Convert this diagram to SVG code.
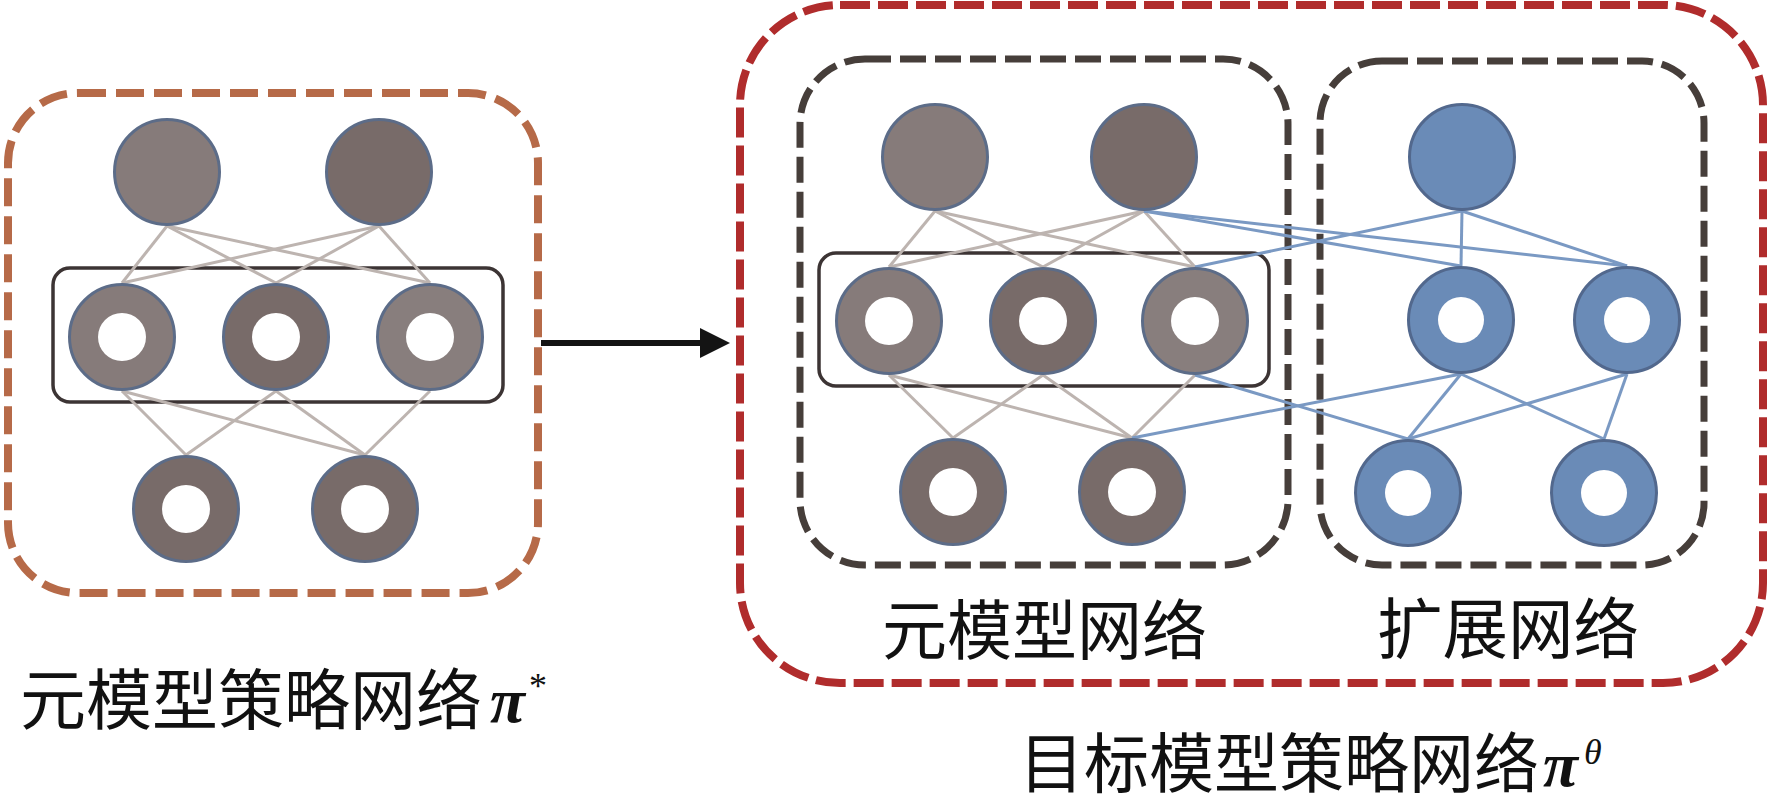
<svg xmlns="http://www.w3.org/2000/svg" width="1773" height="806" viewBox="0 0 1773 806">
<style>
.bg{fill:#ffffff}
.dash-or{fill:none;stroke:#b66a48;stroke-width:8;stroke-dasharray:28 10}
.dash-red{fill:none;stroke:#b02c2c;stroke-width:8;stroke-dasharray:30 8}
.dash-dk{fill:none;stroke:#463e3a;stroke-width:7;stroke-dasharray:26 9}
.grp{fill:none;stroke:#3c3434;stroke-width:3.5}
.gl{stroke:#bdb4b0;stroke-width:3;fill:none}
.bl{stroke:#7a99c3;stroke-width:3;fill:none}
.gn{stroke:#5c6c88;stroke-width:3}
.bn{fill:#6a8bb7;stroke:#52688d;stroke-width:3}
.hole{fill:#ffffff}
.g1{fill:#867b7a}
.g2{fill:#786b69}
.g3{fill:#887e7d}
.cjk{font-family:"Noto Sans CJK SC","Noto Sans CJK TC",sans-serif;fill:#111111}
.pi{font-family:"Liberation Serif",serif;font-weight:bold;font-style:italic;fill:#111111}
.sup{font-family:"Liberation Serif",serif;fill:#111111}
</style>
<defs>
<marker id="arrowhead" markerWidth="6" markerHeight="6" refX="0" refY="3" orient="auto" markerUnits="strokeWidth" viewBox="0 0 6 6">
<path d="M0,0.5 L5,3 L0,5.5 Z" fill="#141414"/>
</marker>
</defs>
<rect class="bg" x="0" y="0" width="1773" height="806"/>

<g id="frames">
<rect id="meta-policy-frame" class="dash-or" x="8" y="93" width="530" height="500" rx="70" ry="70"/>
<rect id="target-policy-frame" class="dash-red" x="740" y="5" width="1023" height="678" rx="100" ry="100"/>
<rect id="meta-net-frame" class="dash-dk" x="800" y="59" width="488" height="506" rx="65" ry="65"/>
<rect id="ext-net-frame" class="dash-dk" x="1320" y="61" width="384" height="504" rx="62" ry="62"/>
</g>

<g id="groups">
<rect id="left-hidden-group" class="grp" x="53" y="268" width="450" height="134" rx="17" ry="17"/>
<rect id="meta-hidden-group" class="grp" x="819" y="253" width="450" height="133" rx="17" ry="17"/>
</g>

<g id="connectors">
<line class="gl" x1="167" y1="226" x2="122" y2="283"/>
<line class="gl" x1="167" y1="226" x2="276" y2="283"/>
<line class="gl" x1="167" y1="226" x2="430" y2="283"/>
<line class="gl" x1="379" y1="226" x2="122" y2="283"/>
<line class="gl" x1="379" y1="226" x2="276" y2="283"/>
<line class="gl" x1="379" y1="226" x2="430" y2="283"/>
<line class="gl" x1="122" y1="391" x2="186" y2="455"/>
<line class="gl" x1="122" y1="391" x2="365" y2="455"/>
<line class="gl" x1="276" y1="391" x2="186" y2="455"/>
<line class="gl" x1="276" y1="391" x2="365" y2="455"/>
<line class="gl" x1="430" y1="391" x2="365" y2="455"/>
<line class="gl" x1="935" y1="211" x2="889" y2="267"/>
<line class="gl" x1="935" y1="211" x2="1043" y2="267"/>
<line class="gl" x1="935" y1="211" x2="1195" y2="267"/>
<line class="gl" x1="1144" y1="211" x2="889" y2="267"/>
<line class="gl" x1="1144" y1="211" x2="1043" y2="267"/>
<line class="gl" x1="1144" y1="211" x2="1195" y2="267"/>
<line class="gl" x1="889" y1="375" x2="953" y2="438"/>
<line class="gl" x1="889" y1="375" x2="1132" y2="438"/>
<line class="gl" x1="1043" y1="375" x2="953" y2="438"/>
<line class="gl" x1="1043" y1="375" x2="1132" y2="438"/>
<line class="gl" x1="1195" y1="375" x2="1132" y2="438"/>
<line class="bl" x1="1144" y1="211" x2="1461" y2="266"/>
<line class="bl" x1="1144" y1="211" x2="1627" y2="266"/>
<line class="bl" x1="1195" y1="267" x2="1462" y2="211"/>
<line class="bl" x1="1462" y1="211" x2="1461" y2="266"/>
<line class="bl" x1="1462" y1="211" x2="1627" y2="266"/>
<line class="bl" x1="1132" y1="438" x2="1461" y2="374"/>
<line class="bl" x1="1195" y1="375" x2="1408" y2="439"/>
<line class="bl" x1="1461" y1="374" x2="1408" y2="439"/>
<line class="bl" x1="1461" y1="374" x2="1604" y2="439"/>
<line class="bl" x1="1627" y1="374" x2="1408" y2="439"/>
<line class="bl" x1="1627" y1="374" x2="1604" y2="439"/>
<line x1="541" y1="343" x2="700" y2="343" stroke="#141414" stroke-width="6" marker-end="url(#arrowhead)"/>
</g>

<g id="left-network">
<g id="L-T1"><circle class="gn g1" cx="167" cy="172" r="52.5"/></g>
<g id="L-T2"><circle class="gn g2" cx="379" cy="172" r="52.5"/></g>
<g id="L-M1"><circle class="gn g1" cx="122" cy="337" r="52.5"/><circle class="hole" cx="122" cy="337" r="24"/></g>
<g id="L-M2"><circle class="gn g2" cx="276" cy="337" r="52.5"/><circle class="hole" cx="276" cy="337" r="24"/></g>
<g id="L-M3"><circle class="gn g3" cx="430" cy="337" r="52.5"/><circle class="hole" cx="430" cy="337" r="24"/></g>
<g id="L-B1"><circle class="gn g2" cx="186" cy="509" r="52.5"/><circle class="hole" cx="186" cy="509" r="24"/></g>
<g id="L-B2"><circle class="gn g2" cx="365" cy="509" r="52.5"/><circle class="hole" cx="365" cy="509" r="24"/></g>
</g>

<g id="meta-network">
<g id="M-T1"><circle class="gn g1" cx="935" cy="157" r="52.5"/></g>
<g id="M-T2"><circle class="gn g2" cx="1144" cy="157" r="52.5"/></g>
<g id="M-M1"><circle class="gn g1" cx="889" cy="321" r="52.5"/><circle class="hole" cx="889" cy="321" r="24"/></g>
<g id="M-M2"><circle class="gn g2" cx="1043" cy="321" r="52.5"/><circle class="hole" cx="1043" cy="321" r="24"/></g>
<g id="M-M3"><circle class="gn g3" cx="1195" cy="321" r="52.5"/><circle class="hole" cx="1195" cy="321" r="24"/></g>
<g id="M-B1"><circle class="gn g2" cx="953" cy="492" r="52.5"/><circle class="hole" cx="953" cy="492" r="24"/></g>
<g id="M-B2"><circle class="gn g2" cx="1132" cy="492" r="52.5"/><circle class="hole" cx="1132" cy="492" r="24"/></g>
</g>

<g id="ext-network">
<g id="E-T"><circle class="bn" cx="1462" cy="157" r="52.5"/></g>
<g id="E-M1"><circle class="bn" cx="1461" cy="320" r="52.5"/><circle class="hole" cx="1461" cy="320" r="23"/></g>
<g id="E-M2"><circle class="bn" cx="1627" cy="320" r="52.5"/><circle class="hole" cx="1627" cy="320" r="23"/></g>
<g id="E-B1"><circle class="bn" cx="1408" cy="493" r="52.5"/><circle class="hole" cx="1408" cy="493" r="23"/></g>
<g id="E-B2"><circle class="bn" cx="1604" cy="493" r="52.5"/><circle class="hole" cx="1604" cy="493" r="23"/></g>
</g>

<g id="labels">
<text id="label-meta-policy"><tspan class="cjk" x="20" y="724" font-size="66">元模型策略网络</tspan><tspan class="pi" x="490" y="722" font-size="64">π</tspan><tspan class="sup" x="529" y="698" font-size="36">*</tspan></text>
<text id="label-meta-net" class="cjk" x="882" y="654" font-size="65">元模型网络</text>
<text id="label-ext-net" class="cjk" x="1377" y="653" font-size="65.5">扩展网络</text>
<text id="label-target-policy"><tspan class="cjk" x="1019" y="787" font-size="65">目标模型策略网络</tspan><tspan class="pi" x="1543" y="786" font-size="64">π</tspan><tspan class="sup" x="1584" y="764" font-size="36" font-style="italic">θ</tspan></text>
</g>
</svg>
